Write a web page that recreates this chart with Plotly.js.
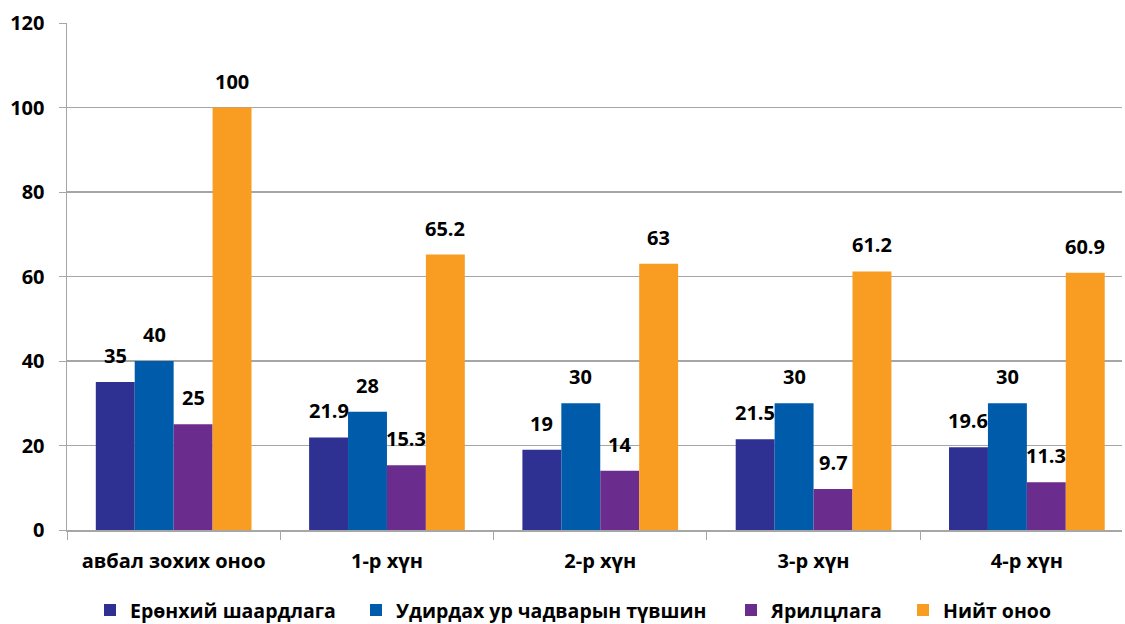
<!DOCTYPE html>
<html>
<head>
<meta charset="utf-8">
<script src="https://cdn.plot.ly/plotly-3.0.1.min.js"></script>
<style>html,body{margin:0;padding:0;background:#fff;}#chart{width:1125px;height:624px;}</style>
</head>
<body>
<div id="chart"></div>
<script>
const categories = ["авбал зохих оноо", "1-р хүн", "2-р хүн", "3-р хүн", "4-р хүн"];
const seriesNames = ["Ерөнхий шаардлага", "Удирдах ур чадварын түвшин", "Ярилцлага", "Нийт оноо"];
const general = [35, 21.9, 19, 21.5, 19.6];
const leadership = [40, 28, 30, 30, 30];
const interview = [25, 15.3, 14, 9.7, 11.3];
const total = [100, 65.2, 63, 61.2, 60.9];
const colors = ["#2e3192", "#005bab", "#6b2d8d", "#f89c22"];
const yTicks = [0, 20, 40, 60, 80, 100, 120];

const series = [general, leadership, interview, total];
const FONT = "Open Sans, Noto Sans, sans-serif";
const BARGAP = 0.27;
const nSeries = series.length;
const barW = (1 - BARGAP) / nSeries;
const legendIds = ["legend", "legend2", "legend3", "legend4"];
const legendX = [90, 356, 731, 903]; // left edge of each legend entry, px in container

const traces = series.map((vals, i) => ({
  type: "bar",
  name: seriesNames[i],
  legend: legendIds[i],
  x: categories,
  y: vals,
  marker: {color: colors[i], line: {width: 0}},
  hoverinfo: "x+y+name"
}));

// data labels placed at each bar's position in axis units
const annotations = [];
series.forEach((vals, j) => {
  vals.forEach((v, i) => {
    annotations.push({
      x: i + (j - (nSeries - 1) / 2) * barW,
      y: v,
      xref: "x", yref: "y",
      text: String(v),
      showarrow: false,
      xanchor: "center", yanchor: "bottom",
      yshift: 11,
      font: {family: FONT, size: 20, color: "#000", weight: "bold"}
    });
  });
});

const layout = {
  width: 1125, height: 624,
  margin: {l: 67, r: 3, t: 23, b: 94},
  paper_bgcolor: "#fff", plot_bgcolor: "#fff",
  barmode: "group",
  bargap: BARGAP,
  bargroupgap: 0,
  font: {family: FONT, size: 20, color: "#000", weight: "bold"},
  xaxis: {
    type: "category",
    range: [-0.5, 4.446],
    showline: true, linecolor: "#a6a6a6", linewidth: 1.5,
    ticks: "outside", tickson: "boundaries", ticklen: 8, tickcolor: "#a6a6a6",
    tickfont: {family: FONT, size: 20, color: "#000", weight: "bold"},
    ticklabelstandoff: 12,
    showgrid: false, fixedrange: true
  },
  yaxis: {
    range: [0, 120],
    tickvals: yTicks,
    ticktext: yTicks.map(String),
    showline: true, linecolor: "#a6a6a6", linewidth: 1.5,
    ticks: "outside", ticklen: 7, tickcolor: "#a6a6a6",
    showgrid: true, gridcolor: "#a6a6a6", gridwidth: 1.2,
    zeroline: false,
    tickfont: {family: FONT, size: 20, color: "#000", weight: "bold"},
    ticklabelstandoff: 10,
    fixedrange: true
  },
  annotations: annotations,
  showlegend: true
};

legendIds.forEach((id, i) => {
  layout[id] = {
    orientation: "h",
    xref: "container", yref: "container",
    x: legendX[i] / 1125, xanchor: "left",
    y: 0.022, yanchor: "middle",
    font: {family: FONT, size: 19.5, color: "#000", weight: "bold"},
    itemwidth: 30,
    bgcolor: "rgba(0,0,0,0)",
    itemclick: false
  };
});

Plotly.newPlot("chart", traces, layout, {displayModeBar: false, staticPlot: true});
</script>
</body>
</html>
